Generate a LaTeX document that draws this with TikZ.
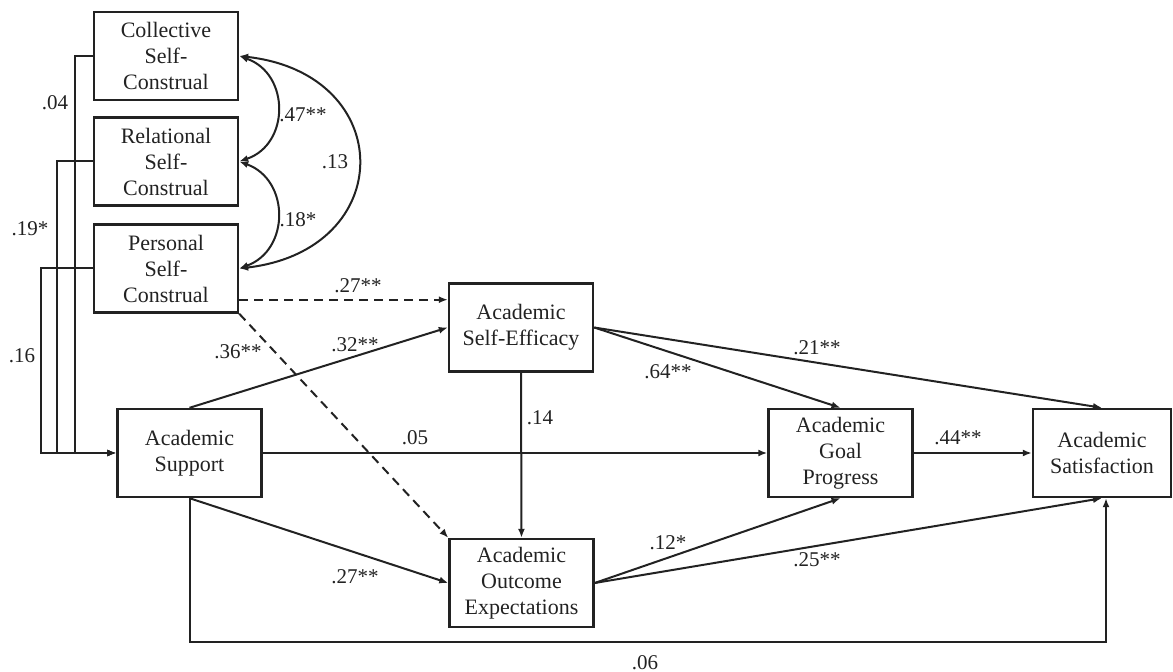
\documentclass[tikz,border=0pt]{standalone}
\usepackage{fontspec}
\setmainfont{Liberation Serif}
\usetikzlibrary{arrows.meta,calc}

\definecolor{ink}{HTML}{222222}

\tikzset{
  varbox/.style={draw=ink, line width=1.2pt, minimum width=72pt, minimum height=44pt,
    inner sep=0pt, align=center, font=\fontsize{11}{13}\selectfont, text=ink},
  path/.style={draw=ink, line width=1pt, -{Latex[length=4.5pt,width=3.5pt]}},
  dashpath/.style={path, dashed, dash pattern=on 4.5pt off 3pt},
  cov/.style={draw=ink, line width=1pt, {Latex[length=4.5pt,width=3.5pt]}-{Latex[length=4.5pt,width=3.5pt]}},
  coef/.style={font=\fontsize{10.5}{12}\selectfont, text=ink, inner sep=0pt}
}

\begin{document}
\begin{tikzpicture}[x=0.5pt, y=-0.5pt]
\useasboundingbox (0,0) rectangle (1173,672);

% variables
\node[varbox] (cs) at (166,56) {Collective\\Self-\\Construal};
\node[varbox] (rs) at (166,161.5) {Relational\\Self-\\Construal};
\node[varbox] (ps) at (166,268.5) {Personal\\Self-\\Construal};
\node[varbox] (as) at (189.5,453) {Academic\\Support};
\node[varbox] (se) at (521,327.5) {Academic\\Self-Efficacy};
\node[varbox] (oe) at (521.5,583) {Academic\\Outcome\\Expectations};
\node[varbox] (gp) at (840.5,453) {Academic\\Goal\\Progress};
\node[varbox, minimum width=69pt] (sat) at (1102,453) {Academic\\Satisfaction};

% self-construals to support
\draw[path] (cs.west) -- ++(-18,0) |- (as.west);
\draw[path] (rs.west) -- ++(-36,0) |- (as.west);
\draw[path] (ps.west) -- ++(-52,0) |- (as.west);
\node[coef] (l04) at (55,103) {.04};
\node[coef] (l19) at (30,229) {.19*};
\node[coef] (l16) at (22,356) {.16};

% correlations among self-construals
\draw[cov] (cs.east) .. controls (290,74) and (290,144) .. (rs.east);
\draw[cov] (rs.east) .. controls (290,180) and (290,250) .. (ps.east);
\draw[cov] (cs.east) .. controls (398,74) and (398,250) .. (ps.east);
\node[coef] (l47) at (303,115) {.47**};
\node[coef] (l18) at (298,220) {.18*};
\node[coef] (l13) at (335,162) {.13};

% personal self-construal paths
\coordinate (pd) at ([yshift=7pt]ps.south east);
\draw[dashpath] (pd) -- (pd -| se.west);
\draw[dashpath] (ps.south east) -- (oe.north west);
\node[coef] (l27a) at (358,286) {.27**};
\node[coef] (l36) at (238,352) {.36**};

% support paths
\draw[path] (as.north) -- (se.west);
\draw[path] (as.east) -- (gp.west);
\draw[path] (as.south) -- (oe.west);
\draw[path] (as.south) -- ++(0,144) -| ([xshift=2pt]sat.south);
\node[coef] (l32) at (355,345) {.32**};
\node[coef] (l05) at (415,438) {.05};
\node[coef] (l27b) at (355,577) {.27**};
\node[coef] (l06) at (645,663) {.06};

% self-efficacy paths
\draw[path] (se.south) -- (oe.north);
\draw[path] (se.east) -- (gp.north);
\draw[path] (se.east) -- (sat.north);
\node[coef] (l14) at (540,418) {.14};
\node[coef] (l64) at (668,372) {.64**};
\node[coef] (l21) at (817,348) {.21**};

% outcome expectations paths
\draw[path] (oe.east) -- (gp.south);
\draw[path] (oe.east) -- (sat.south);
\node[coef] (l12) at (668,543) {.12*};
\node[coef] (l25) at (817,560) {.25**};

% goal progress to satisfaction
\draw[path] (gp.east) -- (sat.west);
\node[coef] (l44) at (958,438) {.44**};
\end{tikzpicture}
\end{document}
